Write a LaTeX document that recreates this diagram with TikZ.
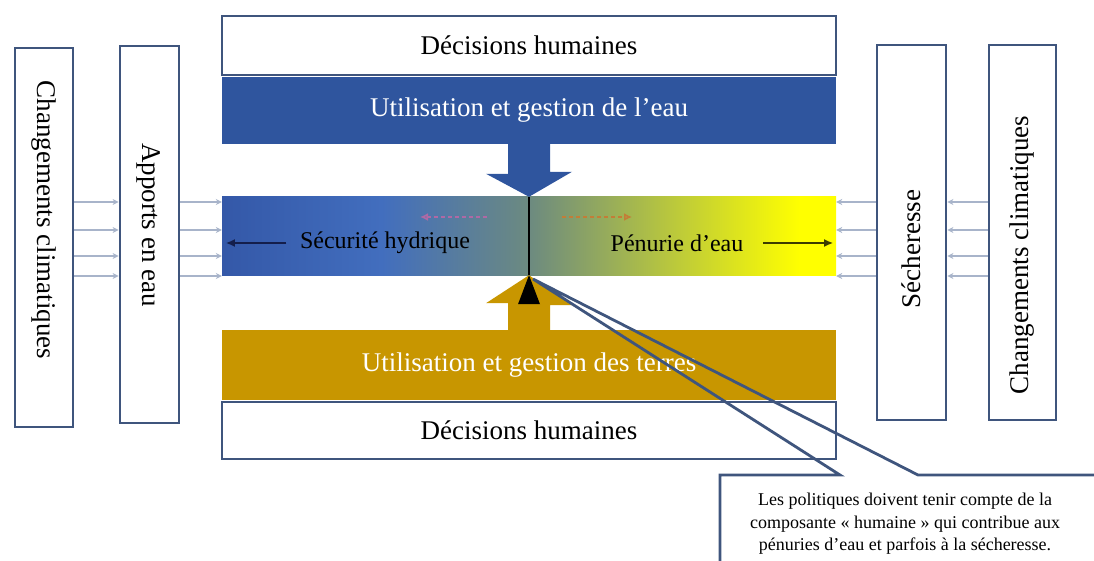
\documentclass[tikz,border=0pt]{standalone}
\usepackage{fontspec}
\setmainfont{Liberation Serif}
\usetikzlibrary{positioning,arrows.meta}

\definecolor{boxline}{RGB}{63,85,125}
\definecolor{wateruse}{RGB}{47,85,158}
\definecolor{landuse}{RGB}{200,150,0}
\definecolor{barblue}{RGB}{52,88,168}
\definecolor{barlight}{RGB}{66,110,190}
\definecolor{barmid}{RGB}{108,138,128}
\definecolor{feedline}{RGB}{168,180,202}
\definecolor{safeink}{RGB}{20,30,75}
\definecolor{shortink}{RGB}{60,60,0}
\definecolor{dashpink}{RGB}{175,105,165}
\definecolor{dashbrown}{RGB}{195,125,55}

\pgfdeclarehorizontalshading{waterbar}{100bp}{color(0bp)=(barblue); color(25bp)=(barblue); color(38bp)=(barlight); color(50bp)=(barmid); color(72bp)=(yellow); color(100bp)=(yellow)}

\tikzset{
  sidebox/.style={draw=boxline, line width=2.8pt, fill=white, inner sep=0pt},
  sidetext/.style={font=\fontsize{27}{27}\selectfont, inner sep=0pt},
  band/.style={minimum width=614pt, inner sep=0pt, font=\fontsize{27}{27}\selectfont},
  plainbox/.style={band, draw=boxline, line width=2.8pt, fill=white},
  feed/.style={draw=feedline, line width=1.5pt, -{Stealth[length=6pt,width=6pt]}},
  barlabel/.style={font=\fontsize{24}{24}\selectfont},
  callout/.style={draw=boxline, line width=2.8pt, line join=miter},
}

\begin{document}
\begin{tikzpicture}[x=1pt, y=-1pt]
\useasboundingbox (0,0) rectangle (1094,561);

% left side
\node[sidebox, minimum width=58pt, minimum height=379pt] (cc1) at (44,237.5) {};
\node[sidetext, rotate=-90] (cc1t) at (44,220) {Changements climatiques};
\node[sidebox, minimum width=59pt, minimum height=377pt] (supply) at (149.5,234.5) {};
\node[sidetext, rotate=-90] (supplyt) at (149,225) {Apports en eau};

% right side
\node[sidebox, minimum width=69pt, minimum height=375pt] (drought) at (911.5,232.5) {};
\node[sidetext, rotate=90] (droughtt) at (911,249) {Sécheresse};
\node[sidebox, minimum width=67pt, minimum height=375pt] (cc2) at (1022.5,232.5) {};
\node[sidetext, rotate=90] (cc2t) at (1022,255) {Changements climatiques};

% centre stack
\node[plainbox, minimum height=59pt] (wtop) at (529,45.5) {Décisions humaines};
\node[band, fill=wateruse, text=white, minimum height=67pt, below=0pt of wtop] (wuse) {Utilisation et gestion de l’eau};
\node[plainbox, minimum height=57pt] (wbot) at (529,430.5) {Décisions humaines};
\node[band, fill=landuse, text=white, minimum height=70pt, above=0pt of wbot] (luse) {Utilisation et gestion des terres};
\node[band, shade, shading=waterbar, minimum height=78pt] (bar) at (529,236) {};

% block arrows
\fill[wateruse] ([xshift=-21pt]wuse.south) -- ++(0,30) -- ++(-22,0) -- (bar.north)
  -- ++(43,-25) -- ++(-22,0) -- ([xshift=21pt]wuse.south) -- cycle;
\fill[landuse] ([xshift=-21pt]luse.north) -- ++(0,-27) -- ++(-22,0) -- (bar.south)
  -- ++(43,30) -- ++(-22,0) -- ([xshift=21pt]luse.north) -- cycle;
\fill[black] (bar.south) -- ++(-11,29) -- ++(22,0) -- cycle;
\draw[black, line width=1.5pt] (bar.north) -- (bar.south);

% labels in the bar
\node[barlabel] (safe) at (385,243) {Sécurité hydrique};
\node[barlabel] (short) at (677,243) {Pénurie d’eau};
\draw[safeink, line width=2.6pt, -{Latex[length=9pt,width=8pt]}] ([xshift=-10pt]safe.west) -- ([xshift=4pt]bar.west |- safe);
\draw[shortink, line width=2.6pt, -{Latex[length=9pt,width=8pt]}] ([xshift=16pt]short.east) -- ([xshift=-3pt]bar.east |- short);

\coordinate (dl) at (487,217);
\coordinate (dr) at (562,217);
\draw[dashpink, line width=2pt, dash pattern=on 4pt off 3pt, -{Latex[open,length=8pt,width=8pt]}] (dl) -- ++(-67,0);
\draw[dashbrown, line width=2pt, dash pattern=on 4pt off 3pt, -{Latex[open,length=8pt,width=8pt]}] (dr) -- ++(70,0);

% feeds
\foreach \yy in {202,230,256,276} {
  \draw[feed] (cc1.east |- 0,\yy) -- (supply.west |- 0,\yy);
  \draw[feed] (supply.east |- 0,\yy) -- (bar.west |- 0,\yy);
  \draw[feed] (cc2.west |- 0,\yy) -- (drought.east |- 0,\yy);
  \draw[feed] (drought.west |- 0,\yy) -- (bar.east |- 0,\yy);
}

% callout
\coordinate (tip) at (533,279);
\node[font=\fontsize{18}{22.5}\selectfont, align=center] (note) at (905,524)
  {Les politiques doivent tenir compte de la\\composante « humaine » qui contribue aux\\pénuries d’eau et parfois à la sécheresse.};
\draw[callout] (1094,475) -- (918,475) -- (tip) -- (840,475) -- (720,475) -- (720,561);

\end{tikzpicture}
\end{document}
